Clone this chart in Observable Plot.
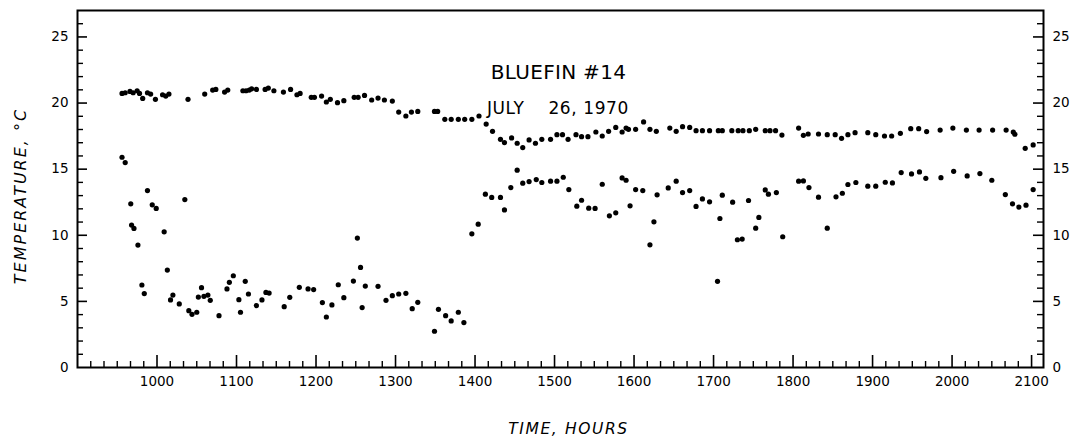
<!DOCTYPE html>
<html><head><meta charset="utf-8">
<script src="https://cdn.jsdelivr.net/npm/d3@7"></script>
<script src="https://cdn.jsdelivr.net/npm/@observablehq/plot@0.6"></script>
<style>
html,body{margin:0;padding:0;background:#fff;}
</style></head><body><div id="chart"></div>
<script>
// Upper series (decimal clock hours, °C)
const upperTime = [9.56,9.60,9.66,9.70,9.75,9.78,9.82,9.88,9.92,9.98,10.07,10.11,10.15,10.39,10.60,10.70,10.74,10.85,10.89,11.08,11.12,11.16,11.19,11.25,11.36,11.40,11.47,11.59,11.68,11.76,11.80,11.94,11.98,12.07,12.13,
12.18,12.27,12.35,12.48,12.53,12.61,12.70,12.78,12.86,12.96,13.04,13.13,13.20,13.28,13.49,13.53,13.62,13.70,13.79,13.87,13.96,14.05,14.14,14.22,14.32,14.37,14.46,14.53,14.60,14.68,14.76,14.84,14.95,15.03,15.10,15.17,
15.27,15.34,15.42,15.52,15.60,15.68,15.77,15.85,15.90,15.93,16.02,16.12,16.20,16.28,16.45,16.53,16.61,16.70,16.78,16.86,16.95,17.06,17.11,17.23,17.31,17.37,17.45,17.53,17.65,17.71,17.78,17.86,18.07,18.13,18.19,
18.32,18.43,18.53,18.61,18.69,18.78,18.94,19.04,19.15,19.24,19.35,19.48,19.58,19.68,19.85,20.01,20.18,20.34,20.51,20.68,20.77,20.79,20.92,21.02];
const upperTemp = [20.73,20.78,20.88,20.78,20.93,20.73,20.35,20.78,20.68,20.28,20.63,20.53,20.68,20.28,20.68,20.98,21.03,20.83,20.98,20.93,20.93,20.98,21.08,21.03,21.03,21.13,20.93,20.83,21.03,20.63,20.73,20.43,20.43,20.53,20.08,
20.28,20.03,20.18,20.43,20.43,20.58,20.23,20.38,20.23,20.15,19.32,19.02,19.32,19.37,19.37,19.37,18.77,18.77,18.77,18.77,18.77,19.02,18.41,17.86,17.26,17.01,17.36,16.96,16.63,17.21,16.96,17.26,17.26,17.61,17.61,17.26,
17.61,17.46,17.46,17.81,17.51,17.86,18.16,17.81,18.11,18.01,18.01,18.57,18.01,17.86,18.11,17.86,18.21,18.16,17.91,17.91,17.91,17.91,17.91,17.91,17.91,17.91,17.91,18.01,17.91,17.91,17.91,17.58,18.11,17.56,17.66,
17.66,17.61,17.61,17.33,17.61,17.76,17.76,17.61,17.51,17.51,17.71,18.06,18.06,17.84,17.96,18.11,17.96,17.96,17.96,17.96,17.81,17.64,16.58,16.83];

// Lower series (decimal clock hours, °C)
const lowerTime = [9.56,9.60,9.67,9.68,9.71,9.76,9.81,9.84,9.88,9.94,9.99,10.09,10.13,10.17,10.20,10.28,10.35,10.40,10.44,10.50,10.52,10.56,10.59,10.64,10.67,10.78,10.88,10.91,10.96,11.03,11.05,11.11,11.15,11.25,11.32,11.37,11.41,11.60,11.67,11.79,11.90,11.97,12.08,12.13,
12.20,12.28,12.35,12.47,12.52,12.56,12.58,12.62,12.78,12.88,12.96,13.04,13.13,13.21,13.28,13.49,13.54,13.63,13.70,13.79,13.86,13.96,14.04,14.13,14.21,14.32,14.37,14.45,14.53,14.60,14.68,14.77,14.84,14.95,15.03,15.11,15.18,
15.28,15.34,15.43,15.51,15.60,15.69,15.77,15.85,15.90,15.95,16.02,16.11,16.20,16.25,16.29,16.43,16.53,16.61,16.70,16.78,16.86,16.95,17.05,17.08,17.11,17.24,17.30,17.36,17.44,17.53,17.57,17.65,17.69,17.79,17.87,18.07,18.13,18.20,
18.32,18.43,18.54,18.62,18.69,18.79,18.94,19.04,19.16,19.25,19.36,19.49,19.59,19.67,19.86,20.02,20.19,20.35,20.50,20.67,20.76,20.84,20.93,21.02];
const lowerTemp = [15.90,15.50,12.38,10.77,10.52,9.26,6.24,5.59,13.38,12.30,12.03,10.26,7.37,5.11,5.48,4.81,12.70,4.30,4.02,4.18,5.33,6.04,5.38,5.48,5.08,3.92,5.94,6.44,6.94,5.13,4.18,6.52,5.56,4.68,5.11,5.68,5.63,4.60,5.31,6.06,5.94,5.89,4.91,3.82,
4.73,6.26,5.28,6.54,9.79,7.57,4.53,6.16,6.14,5.08,5.43,5.56,5.61,4.45,4.93,2.74,4.40,3.92,3.52,4.18,3.40,10.11,10.84,13.11,12.86,12.86,11.92,13.61,14.92,13.94,14.06,14.21,13.99,14.09,14.09,14.39,13.46,
12.20,12.65,12.05,12.03,13.86,11.47,11.70,14.34,14.16,12.23,13.46,13.38,9.28,11.02,13.06,13.58,14.09,13.23,13.38,12.18,12.75,12.53,6.52,11.27,13.03,12.50,9.66,9.71,12.63,10.54,11.35,13.43,13.11,13.23,9.89,14.09,14.11,13.61,
12.88,10.54,12.91,13.18,13.84,13.99,13.71,13.71,14.01,13.96,14.74,14.64,14.79,14.31,14.36,14.84,14.49,14.67,14.16,13.08,12.38,12.13,12.28,13.46];

// Axis ticks and labels
const xTickHours = [10,11,12,13,14,15,16,17,18,19,20,21];
const xTickLabels = ["1000","1100","1200","1300","1400","1500","1600","1700","1800","1900","2000","2100"];
const yTickValues = [0,5,10,15,20,25];
const yTickLabels = ["0","5","10","15","20","25"];
const titleText = "BLUEFIN #14";
const dateText = "JULY\u00a0\u00a0\u00a0\u00a026, 1970";
const xLabel = "TIME, HOURS";
const yLabel = "TEMPERATURE, °C";

const upper = upperTime.map((t, i) => ({time: t, temp: upperTemp[i]}));
const lower = lowerTime.map((t, i) => ({time: t, temp: lowerTemp[i]}));

const xDomain = [9, 21.15];
const yDomain = [0, 27];
const W = 1070, H = 439;
const mL = 77, mR = 27, mT = 10, mB = 72;
const fw = W - mL - mR, fh = H - mT - mB;

const xMinor = d3.range(55, 127).map(i => i / 6).filter(d => Math.abs(d - Math.round(d)) > 1e-6);
const xMajor = d3.range(9, 22).filter(d => d > 9);
const yMinor = d3.range(1, 27).filter(d => d % 5 !== 0);
const yMajor = d3.range(5, 27, 5);

const font = "DejaVu Sans";
const chart = Plot.plot({
  width: W, height: H,
  marginLeft: mL, marginRight: mR, marginTop: mT, marginBottom: mB,
  x: {domain: xDomain},
  y: {domain: yDomain},
  style: {fontFamily: font, color: "black", background: "white", overflow: "visible"},
  marks: [
    Plot.axisX(xTickHours, {tickSize: 0, tickPadding: 9, fontSize: 13.5, label: null,
      tickFormat: d => xTickLabels[xTickHours.indexOf(d)]}),
    Plot.axisY(yTickValues, {anchor: "left", tickSize: 0, tickPadding: 9, fontSize: 13.5, label: null,
      tickFormat: d => yTickLabels[yTickValues.indexOf(d)]}),
    Plot.axisY(yTickValues, {anchor: "right", tickSize: 0, tickPadding: 9, fontSize: 13.5, label: null,
      tickFormat: d => yTickLabels[yTickValues.indexOf(d)]}),
    // bottom ticks (inward)
    Plot.tickX(xMinor, {x: d => d, insetTop: fh - 6, stroke: "black", strokeWidth: 1.4}),
    Plot.tickX(xMajor, {x: d => d, insetTop: fh - 12, stroke: "black", strokeWidth: 1.6}),
    // left ticks
    Plot.tickY(yMinor, {y: d => d, insetRight: fw - 6, stroke: "black", strokeWidth: 1.4}),
    Plot.tickY(yMajor, {y: d => d, insetRight: fw - 10, stroke: "black", strokeWidth: 1.6}),
    // right ticks
    Plot.tickY(yMinor, {y: d => d, insetLeft: fw - 6, stroke: "black", strokeWidth: 1.4}),
    Plot.tickY(yMajor, {y: d => d, insetLeft: fw - 10, stroke: "black", strokeWidth: 1.6}),
    Plot.frame({stroke: "black", strokeWidth: 2}),
    Plot.dot(upper, {x: "time", y: "temp", r: 2.6, fill: "black", stroke: "none"}),
    Plot.dot(lower, {x: "time", y: "temp", r: 2.6, fill: "black", stroke: "none"}),
    Plot.text([titleText], {x: () => 15.05, y: () => 21.81, text: d => d, textAnchor: "middle", lineAnchor: "bottom", fontSize: 20, fill: "black"}),
    Plot.text([dateText], {x: () => 14.15, y: () => 19.17, text: d => d, textAnchor: "start", lineAnchor: "bottom", fontSize: 17, fill: "black"}),
    Plot.text([xLabel], {frameAnchor: "bottom", dx: 8, dy: 66, text: d => d, textAnchor: "middle", lineAnchor: "bottom", fontSize: 15.5, fontStyle: "italic", fill: "black"}),
    Plot.text([yLabel], {frameAnchor: "left", dx: -57, dy: 7, rotate: -90, text: d => d, textAnchor: "middle", lineAnchor: "middle", fontSize: 16, fontStyle: "italic", fill: "black"})
  ]
});
// letter spacing tweaks (style only)
const spacing = new Map([[yLabel, "2px"], [xLabel, "1.6px"], [dateText, "0.6px"], [titleText, "0.3px"]]);
d3.select(chart).selectAll("text").each(function() {
  const s = spacing.get(this.textContent);
  if (s) this.setAttribute("letter-spacing", s);
});
document.getElementById("chart").appendChild(chart);
</script>
</body></html>
